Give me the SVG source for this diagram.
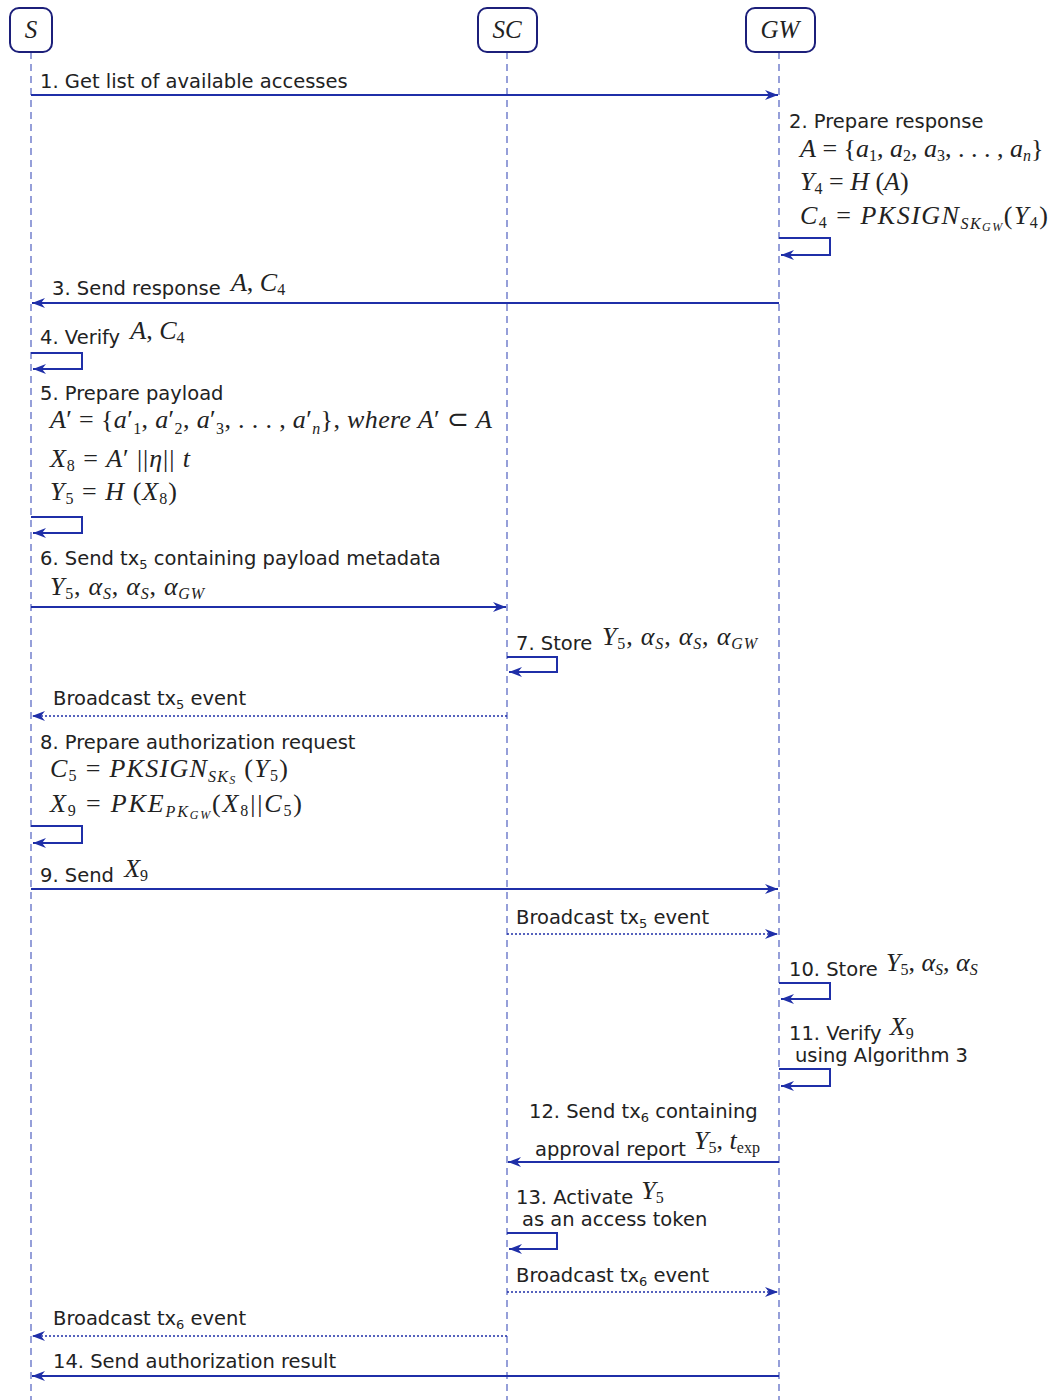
<svg xmlns="http://www.w3.org/2000/svg" width="1051" height="1400" viewBox="0 0 1051 1400">
<style>
.bg{fill:#ffffff}
.hdr{fill:#ffffff;stroke:#1c1f7a;stroke-width:2}
.hname{font-family:"Liberation Serif",serif;font-style:italic;font-size:25px;fill:#222;text-anchor:middle}
.life{stroke:#5060c0;stroke-width:1.2;stroke-dasharray:7,5;fill:none}
.msg{stroke:#1f2fa8;stroke-width:1.8;fill:none}
.dot{stroke:#1f2fa8;stroke-width:1.6;stroke-dasharray:2,2;fill:none}
.loop{stroke:#1f2fa8;stroke-width:2;fill:none}
.lbl{font-family:"DejaVu Sans",sans-serif;font-size:19.5px;fill:#222}
.m{font-family:"Liberation Serif",serif;font-size:26px;fill:#222}
.i{font-style:italic}
.s{font-size:16px}
.ss{font-size:12px}
.t{font-size:13px}
</style>
<defs>
<marker id="ah" markerUnits="userSpaceOnUse" viewBox="0 0 13 10" refX="13" refY="5" markerWidth="13" markerHeight="10" orient="auto">
<path d="M0,0 L13,5 L0,10 L4,5 Z" fill="#1f2fa8"/>
</marker>
</defs>
<rect class="bg" x="0" y="0" width="1051" height="1400"/>

<g id="lifelines">
<line class="life" x1="31" y1="52" x2="31" y2="1400"/>
<line class="life" x1="507" y1="52" x2="507" y2="1400"/>
<line class="life" x1="779" y1="52" x2="779" y2="1400"/>
</g>

<g id="node-S"><rect class="hdr" x="10" y="8" width="42" height="44" rx="9"/><text class="hname" x="31" y="38">S</text></g>
<g id="node-SC"><rect class="hdr" x="478" y="8" width="59" height="44" rx="9"/><text class="hname" x="507" y="38">SC</text></g>
<g id="node-GW"><rect class="hdr" x="746" y="8" width="69" height="44" rx="9"/><text class="hname" x="780" y="38">GW</text></g>

<g id="connectors">
<line class="msg" x1="31" y1="95" x2="778" y2="95" marker-end="url(#ah)"/>
<path class="loop" d="M779,238 H830 V255 H781" marker-end="url(#ah)"/>
<line class="msg" x1="779" y1="303" x2="32" y2="303" marker-end="url(#ah)"/>
<path class="loop" d="M31,353 H82 V369 H33" marker-end="url(#ah)"/>
<path class="loop" d="M31,517 H82 V533 H33" marker-end="url(#ah)"/>
<line class="msg" x1="31" y1="607" x2="506" y2="607" marker-end="url(#ah)"/>
<path class="loop" d="M507,657 H557 V672 H509" marker-end="url(#ah)"/>
<line class="dot" x1="507" y1="716" x2="32" y2="716" marker-end="url(#ah)"/>
<path class="loop" d="M31,826 H82 V843 H33" marker-end="url(#ah)"/>
<line class="msg" x1="31" y1="889" x2="778" y2="889" marker-end="url(#ah)"/>
<line class="dot" x1="507" y1="934" x2="778" y2="934" marker-end="url(#ah)"/>
<path class="loop" d="M779,983 H830 V999 H781" marker-end="url(#ah)"/>
<path class="loop" d="M779,1069 H830 V1086 H781" marker-end="url(#ah)"/>
<line class="msg" x1="779" y1="1162" x2="508" y2="1162" marker-end="url(#ah)"/>
<path class="loop" d="M507,1233 H557 V1249 H509" marker-end="url(#ah)"/>
<line class="dot" x1="507" y1="1292" x2="778" y2="1292" marker-end="url(#ah)"/>
<line class="dot" x1="507" y1="1336" x2="32" y2="1336" marker-end="url(#ah)"/>
<line class="msg" x1="779" y1="1376" x2="32" y2="1376" marker-end="url(#ah)"/>
</g>

<g id="labels">
<text class="lbl" x="40" y="88">1. Get list of available accesses</text>

<text class="lbl" x="789" y="128">2. Prepare response</text>
<text class="m" x="800" y="157"><tspan class="i">A</tspan> = {<tspan class="i">a</tspan><tspan class="s" dy="4">1</tspan><tspan dy="-4">, </tspan><tspan class="i">a</tspan><tspan class="s" dy="4">2</tspan><tspan dy="-4">, </tspan><tspan class="i">a</tspan><tspan class="s" dy="4">3</tspan><tspan dy="-4">, . . . , </tspan><tspan class="i">a</tspan><tspan class="s i" dy="4">n</tspan><tspan dy="-4">}</tspan></text>
<text class="m" x="800" y="190"><tspan class="i">Y</tspan><tspan class="s" dy="4">4</tspan><tspan dy="-4"> = </tspan><tspan class="i">H</tspan> (<tspan class="i">A</tspan>)</text>
<text class="m" x="800" y="224" textLength="248" lengthAdjust="spacing"><tspan class="i">C</tspan><tspan class="s" dy="4">4</tspan><tspan dy="-4"> = </tspan><tspan class="i">PKSIGN</tspan><tspan class="s i" dy="5">SK</tspan><tspan class="ss i" dy="2">GW</tspan><tspan dy="-7">(</tspan><tspan class="i">Y</tspan><tspan class="s" dy="4">4</tspan><tspan dy="-4">)</tspan></text>

<text class="lbl" x="52" y="295">3. Send response <tspan class="m i" dx="4" dy="-4">A</tspan><tspan class="m">, </tspan><tspan class="m i">C</tspan><tspan class="m s" dy="4">4</tspan></text>

<text class="lbl" x="40" y="344">4. Verify <tspan class="m i" dx="4" dy="-5">A</tspan><tspan class="m">, </tspan><tspan class="m i">C</tspan><tspan class="m s" dy="4">4</tspan></text>

<text class="lbl" x="40" y="400">5. Prepare payload</text>
<text class="m" x="50" y="428" textLength="442" lengthAdjust="spacing"><tspan class="i">A</tspan>′ = {<tspan class="i">a</tspan>′<tspan class="s" dy="6">1</tspan><tspan dy="-6">, </tspan><tspan class="i">a</tspan>′<tspan class="s" dy="6">2</tspan><tspan dy="-6">, </tspan><tspan class="i">a</tspan>′<tspan class="s" dy="6">3</tspan><tspan dy="-6">, . . . , </tspan><tspan class="i">a</tspan>′<tspan class="s i" dy="6">n</tspan><tspan dy="-6">},  </tspan><tspan class="i">where A</tspan>′ ⊂ <tspan class="i">A</tspan></text>
<text class="m" x="50" y="467" textLength="140" lengthAdjust="spacing"><tspan class="i">X</tspan><tspan class="s" dy="4">8</tspan><tspan dy="-4"> = </tspan><tspan class="i">A</tspan>′ ||<tspan class="i">η</tspan>|| <tspan class="i">t</tspan></text>
<text class="m" x="50" y="500" textLength="127" lengthAdjust="spacing"><tspan class="i">Y</tspan><tspan class="s" dy="4">5</tspan><tspan dy="-4"> = </tspan><tspan class="i">H</tspan> (<tspan class="i">X</tspan><tspan class="s" dy="4">8</tspan><tspan dy="-4">)</tspan></text>

<text class="lbl" x="40" y="565">6. Send tx<tspan class="t" dy="4">5</tspan><tspan dy="-4"> containing payload metadata</tspan></text>
<text class="m" x="50" y="595" textLength="154" lengthAdjust="spacing"><tspan class="i">Y</tspan><tspan class="s" dy="4">5</tspan><tspan dy="-4">, </tspan><tspan class="i">α</tspan><tspan class="s i" dy="4">S</tspan><tspan dy="-4">, </tspan><tspan class="i">α</tspan><tspan class="s i" dy="4">S</tspan><tspan dy="-4">, </tspan><tspan class="i">α</tspan><tspan class="s i" dy="4">GW</tspan></text>

<text class="lbl" x="516" y="650">7. Store</text>
<text class="m" x="602" y="645" textLength="155" lengthAdjust="spacing"><tspan class="i">Y</tspan><tspan class="s" dy="4">5</tspan><tspan dy="-4">, </tspan><tspan class="i">α</tspan><tspan class="s i" dy="4">S</tspan><tspan dy="-4">, </tspan><tspan class="i">α</tspan><tspan class="s i" dy="4">S</tspan><tspan dy="-4">, </tspan><tspan class="i">α</tspan><tspan class="s i" dy="4">GW</tspan></text>

<text class="lbl" x="53" y="705">Broadcast tx<tspan class="t" dy="4">5</tspan><tspan dy="-4"> event</tspan></text>

<text class="lbl" x="40" y="749">8. Prepare authorization request</text>
<text class="m" x="50" y="777" textLength="238" lengthAdjust="spacing"><tspan class="i">C</tspan><tspan class="s" dy="4">5</tspan><tspan dy="-4"> = </tspan><tspan class="i">PKSIGN</tspan><tspan class="s i" dy="5">SK</tspan><tspan class="ss i" dy="2">S</tspan><tspan dy="-7"> (</tspan><tspan class="i">Y</tspan><tspan class="s" dy="4">5</tspan><tspan dy="-4">)</tspan></text>
<text class="m" x="50" y="812" textLength="252" lengthAdjust="spacing"><tspan class="i">X</tspan><tspan class="s" dy="4">9</tspan><tspan dy="-4"> = </tspan><tspan class="i">PKE</tspan><tspan class="s i" dy="5">PK</tspan><tspan class="ss i" dy="2">GW</tspan><tspan dy="-7">(</tspan><tspan class="i">X</tspan><tspan class="s" dy="4">8</tspan><tspan dy="-4">||</tspan><tspan class="i">C</tspan><tspan class="s" dy="4">5</tspan><tspan dy="-4">)</tspan></text>

<text class="lbl" x="40" y="882">9. Send <tspan class="m i" dx="4" dy="-5">X</tspan><tspan class="m s" dy="4">9</tspan></text>

<text class="lbl" x="516" y="924">Broadcast tx<tspan class="t" dy="4">5</tspan><tspan dy="-4"> event</tspan></text>

<text class="lbl" x="789" y="976">10. Store <tspan class="m i" dx="2" dy="-5">Y</tspan><tspan class="m s" dy="4">5</tspan><tspan class="m" dy="-4">, </tspan><tspan class="m i">α</tspan><tspan class="m s i" dy="4">S</tspan><tspan class="m" dy="-4">, </tspan><tspan class="m i">α</tspan><tspan class="m s i" dy="4">S</tspan></text>

<text class="lbl" x="789" y="1040">11. Verify <tspan class="m i" dx="2" dy="-5">X</tspan><tspan class="m s" dy="4">9</tspan></text>
<text class="lbl" x="795" y="1062">using Algorithm 3</text>

<text class="lbl" x="529" y="1118">12. Send tx<tspan class="t" dy="4">6</tspan><tspan dy="-4"> containing</tspan></text>
<text class="lbl" x="535" y="1156">approval report <tspan class="m i" dx="2" dy="-7">Y</tspan><tspan class="m s" dy="4">5</tspan><tspan class="m" dy="-4">, </tspan><tspan class="m i">t</tspan><tspan class="m s" dy="4">exp</tspan></text>

<text class="lbl" x="516" y="1204">13. Activate <tspan class="m i" dx="2" dy="-5">Y</tspan><tspan class="m s" dy="4">5</tspan></text>
<text class="lbl" x="522" y="1226">as an access token</text>

<text class="lbl" x="516" y="1282">Broadcast tx<tspan class="t" dy="4">6</tspan><tspan dy="-4"> event</tspan></text>
<text class="lbl" x="53" y="1325">Broadcast tx<tspan class="t" dy="4">6</tspan><tspan dy="-4"> event</tspan></text>
<text class="lbl" x="53" y="1368">14. Send authorization result</text>
</g>
</svg>
